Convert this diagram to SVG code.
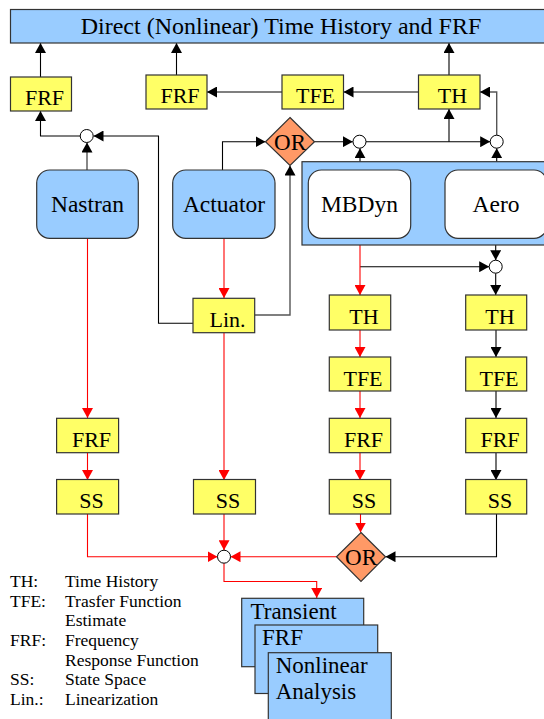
<svg xmlns="http://www.w3.org/2000/svg" width="544" height="719" viewBox="0 0 544 719" font-family="'Liberation Serif', 'Times New Roman', Times, 'DejaVu Serif', serif">
<defs>
<style>
text{font-family:"Liberation Serif","Times New Roman",Times,"DejaVu Serif",serif;fill:#000}
.y{fill:#ffff66;stroke:#333;stroke-width:1.2}
.b{fill:#99ccff;stroke:#333;stroke-width:1.2}
.w{fill:#fff;stroke:#333;stroke-width:1.2}
.d{fill:#ff9966;stroke:#333;stroke-width:1.2}
.c{fill:#fff;stroke:#000;stroke-width:1}
.yt{font-size:22px;text-anchor:middle}
.bt{font-size:23.5px;text-anchor:middle}
.lg{font-size:17.5px}
.st{font-size:23px}
.k{fill:none;stroke:#000;stroke-width:1.1;marker-end:url(#ab)}
.g{fill:none;stroke:#555;stroke-width:1.4;marker-end:url(#ab)}
.r{fill:none;stroke:#ff0000;stroke-width:1.1;marker-end:url(#ar)}
</style>
<marker id="ab" markerUnits="userSpaceOnUse" markerWidth="10" markerHeight="11" refX="10" refY="5.5" orient="auto"><path d="M0,0L10,5.5L0,11z" fill="#000"/></marker>
<marker id="ar" markerUnits="userSpaceOnUse" markerWidth="10" markerHeight="11" refX="10" refY="5.5" orient="auto"><path d="M0,0L10,5.5L0,11z" fill="#ff0000"/></marker>
</defs>

<g id="connectors">
<path class="k" d="M40.5,77V43"/>
<path class="k" d="M176.5,75V43"/>
<path class="k" d="M449,75V43"/>
<path class="k" d="M282,92H207"/>
<path class="k" d="M418.5,92H343.5"/>
<path class="k" d="M80.2,136H40.5V111"/>
<path class="g" d="M87,170V142.5"/>
<path class="k" d="M193,323.3H158.5V136H93.5"/>
<path class="k" d="M222.5,170V141.7H265.5"/>
<path class="g" d="M254.7,315H290V165.5"/>
<path class="k" d="M314.5,141.7H352.8"/>
<path class="k" d="M366,141.7H490.2"/>
<path class="k" d="M449,141.7V109"/>
<path class="g" d="M496.7,135.2V92H480"/>
<path class="k" d="M360,170V148.2"/>
<path class="k" d="M496.7,170V148.2"/>
<path class="k" d="M360,266.7H489.2"/>
<path class="k" d="M495.7,238V260.2"/>
<path class="k" d="M495.7,273.2V295"/>
<path class="k" d="M496,330V357"/>
<path class="k" d="M496,391V418"/>
<path class="k" d="M496,453V480"/>
<path class="k" d="M496.5,514V556.7H385.5"/>
<path class="r" d="M87.5,238V418"/>
<path class="r" d="M87.5,453V480"/>
<path class="r" d="M87.5,514V556.7H217.5"/>
<path class="r" d="M224,238V298"/>
<path class="r" d="M224,333V480"/>
<path class="r" d="M224,514V550.2"/>
<path class="r" d="M336.5,556.7H230.5"/>
<path class="r" d="M360,238V295"/>
<path class="r" d="M360,330V357"/>
<path class="r" d="M360,391V418"/>
<path class="r" d="M360,453V480"/>
<path class="r" d="M360.5,514V532.5"/>
<path class="r" d="M224,563.2V581.5H316.7V598"/>
</g>

<g id="banner"><rect class="b" x="10.5" y="9.5" width="540" height="33.5"/><text x="281" y="33.5" style="font-size:24px;text-anchor:middle">Direct (Nonlinear) Time History and FRF</text></g>

<g id="frf-top1"><rect class="y" x="10.5" y="77" width="61" height="34"/><text class="yt" x="44.5" y="105">FRF</text></g>
<g id="frf-top2"><rect class="y" x="146" y="75" width="61" height="34"/><text class="yt" x="180" y="103">FRF</text></g>
<g id="tfe-top"><rect class="y" x="282" y="75" width="61.5" height="34"/><text class="yt" x="315.5" y="103">TFE</text></g>
<g id="th-top"><rect class="y" x="418.5" y="75" width="61.5" height="34"/><text class="yt" x="452.5" y="103">TH</text></g>

<g id="sum1"><circle class="c" cx="86.7" cy="136" r="6.5"/></g>
<g id="or1"><path class="d" d="M290,117.5L314.5,141.7L290,165.5L265.5,141.7z"/><text x="290" y="149.5" style="font-size:23px;text-anchor:middle">OR</text></g>
<g id="sum2"><circle class="c" cx="359.5" cy="141.7" r="6.5"/></g>
<g id="sum3"><circle class="c" cx="496.7" cy="141.7" r="6.5"/></g>

<g id="nastran"><rect class="b" x="36.7" y="170" width="101.6" height="68.3" rx="13"/><text class="bt" x="87.5" y="212">Nastran</text></g>
<g id="actuator"><rect class="b" x="172.7" y="170" width="102.3" height="68.3" rx="13"/><text class="bt" x="224" y="212">Actuator</text></g>
<g id="coupled"><rect class="b" x="302" y="161.7" width="250" height="83.3"/></g>
<g id="mbdyn"><rect class="w" x="308.3" y="170" width="102.4" height="68.3" rx="13"/><text class="bt" x="359.5" y="212">MBDyn</text></g>
<g id="aero"><rect class="w" x="445" y="170" width="102" height="68.3" rx="13"/><text class="bt" x="496" y="212">Aero</text></g>

<g id="sum4"><circle class="c" cx="495.7" cy="266.7" r="6.5"/></g>

<g id="lin"><rect class="y" x="193" y="298.3" width="61.7" height="34.4"/><text class="yt" x="227.5" y="326.5">Lin.</text></g>
<g id="th2"><rect class="y" x="329.3" y="295" width="61.4" height="35"/><text class="yt" x="364" y="324">TH</text></g>
<g id="th3"><rect class="y" x="465.7" y="295" width="61" height="35"/><text class="yt" x="500" y="324">TH</text></g>
<g id="tfe2"><rect class="y" x="329.3" y="357" width="61.4" height="34"/><text class="yt" x="363" y="385.5">TFE</text></g>
<g id="tfe3"><rect class="y" x="465.7" y="357" width="61" height="34"/><text class="yt" x="499" y="385.5">TFE</text></g>
<g id="frf1"><rect class="y" x="56.6" y="418.3" width="62" height="34.4"/><text class="yt" x="91.5" y="446.5">FRF</text></g>
<g id="frf2"><rect class="y" x="329.3" y="418.3" width="61.4" height="34.4"/><text class="yt" x="363.5" y="446.5">FRF</text></g>
<g id="frf3"><rect class="y" x="465.7" y="418.3" width="61" height="34.4"/><text class="yt" x="500" y="446.5">FRF</text></g>
<g id="ss1"><rect class="y" x="56.6" y="479.5" width="62" height="34.5"/><text class="yt" x="91.5" y="508">SS</text></g>
<g id="ss2"><rect class="y" x="193.5" y="479.5" width="62" height="34.5"/><text class="yt" x="228" y="508">SS</text></g>
<g id="ss3"><rect class="y" x="329.3" y="479.5" width="61.4" height="34.5"/><text class="yt" x="364" y="508">SS</text></g>
<g id="ss4"><rect class="y" x="465.7" y="479.5" width="61" height="34.5"/><text class="yt" x="500" y="508">SS</text></g>

<g id="sum5"><circle class="c" cx="224" cy="556.7" r="6.5"/></g>
<g id="or2"><path class="d" d="M361,532.5L385.5,556.7L361,581.5L336.5,556.7z"/><text x="361" y="564.5" style="font-size:23px;text-anchor:middle">OR</text></g>

<g id="legend">
<text class="lg" x="10" y="587">TH:</text><text class="lg" x="65" y="587">Time History</text>
<text class="lg" x="10" y="606.5">TFE:</text><text class="lg" x="65" y="606.5">Trasfer Function</text>
<text class="lg" x="65" y="626">Estimate</text>
<text class="lg" x="10" y="645.5">FRF:</text><text class="lg" x="65" y="645.5">Frequency</text>
<text class="lg" x="65" y="665.5">Response Function</text>
<text class="lg" x="10" y="685">SS:</text><text class="lg" x="65" y="685">State Space</text>
<text class="lg" x="10" y="705">Lin.:</text><text class="lg" x="65" y="705">Linearization</text>
</g>

<g id="transient"><rect class="b" x="241.7" y="598.3" width="122" height="68.4"/><text class="st" x="250.5" y="619">Transient</text></g>
<g id="frf-out"><rect class="b" x="255" y="625" width="122.7" height="68.5"/><text class="st" x="262" y="645">FRF</text></g>
<g id="nonlinear"><rect class="b" x="268.3" y="652.7" width="123" height="80"/><text class="st" x="275.7" y="673.3">Nonlinear</text><text class="st" x="275.7" y="699">Analysis</text></g>
</svg>
